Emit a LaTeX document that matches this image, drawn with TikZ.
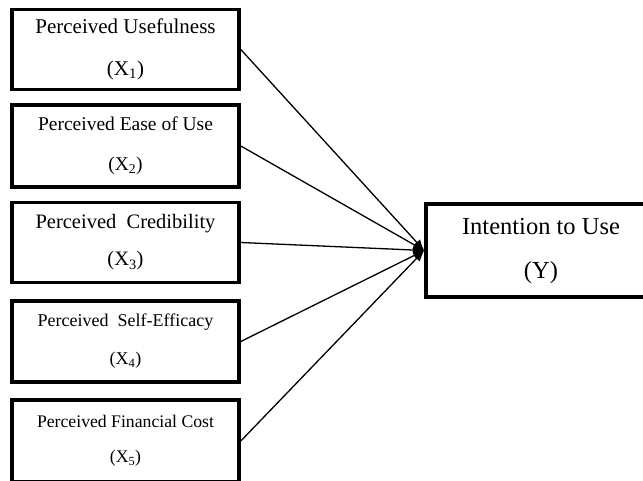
\documentclass[tikz,border=0pt]{standalone}
\usepackage{fontspec}
\setmainfont{Liberation Serif}
\usetikzlibrary{arrows.meta}
\tikzset{
  varbox/.style={draw, line width=3.6pt, rectangle, align=center, inner sep=0pt, anchor=center},
  link/.style={line width=1.3pt, -{Latex[length=11pt,width=9pt]}}
}
\begin{document}
\begin{tikzpicture}[x=1pt,y=-1pt]
\useasboundingbox (0,0) rectangle (643,481);
\clip (0,0) rectangle (643,481);
\fill[white] (0,0) rectangle (643,481);
\node[varbox, minimum width=227pt, minimum height=80pt, font={\fontsize{21}{42}\selectfont}] (x1) at (125.5,49.5) {Perceived Usefulness\\(X\textsubscript{1})};
\node[varbox, minimum width=227pt, minimum height=82pt, font={\fontsize{19.5}{40}\selectfont}] (x2) at (125.5,146) {Perceived Ease of Use\\(X\textsubscript{2})};
\node[varbox, minimum width=227pt, minimum height=80pt, font={\fontsize{20.5}{37}\selectfont}] (x3) at (125.5,242.5) {Perceived\ \ Credibility\\(X\textsubscript{3})};
\node[varbox, minimum width=227pt, minimum height=81pt, font={\fontsize{18}{38}\selectfont}] (x4) at (125.5,341.5) {Perceived\ \ Self-Efficacy\\(X\textsubscript{4})};
\node[varbox, minimum width=227pt, minimum height=82pt, font={\fontsize{17.7}{35}\selectfont}] (x5) at (125.5,441) {Perceived Financial Cost\\(X\textsubscript{5})};
\node[varbox, minimum width=230pt, minimum height=93pt, font={\fontsize{24.5}{44}\selectfont}] (y) at (541,250.5) {Intention to Use\\(Y)};
\foreach \i in {1,...,5} {\draw[link] (x\i.east) -- (y.west);}
\end{tikzpicture}
\end{document}
